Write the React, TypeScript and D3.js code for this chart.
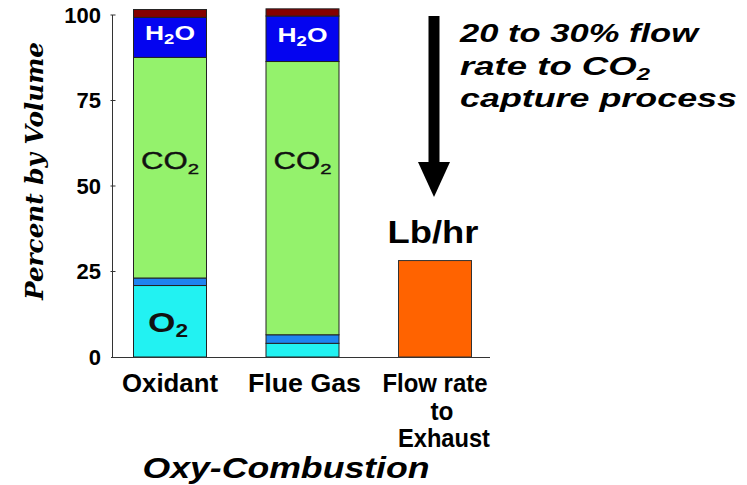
import React from "react";
import * as d3 from "d3";

// stacked gas composition, percent by volume
const categories = ["Oxidant", "Flue Gas", "Flow rate to Exhaust"];
const gases = ["O2", "N2Ar", "CO2", "H2O", "Other"];
const oxidantValues = [20.9, 2.2, 64.5, 11.7, 2.3];
const flueGasValues = [4.0, 2.5, 79.9, 13.3, 2.1];
const exhaustFlow = 28.2;
const yTicks = [0, 25, 50, 75, 100];

const gasColors: Record<string, string> = {
  O2: "#22F2F2",
  N2Ar: "#1E84F0",
  CO2: "#94F26C",
  H2O: "#0404F0",
  Other: "#850000",
};

const W = 747;
const H = 485;
const sans = "'Liberation Sans', Arial, sans-serif";

export default function App() {
  const y = d3.scaleLinear().domain([0, 100]).range([357, 15]);
  const x = d3.scalePoint<string>().domain(categories).range([170, 435]);
  const barW = 73;

  const rows = [
    { cat: categories[0], ...Object.fromEntries(gases.map((g, i) => [g, oxidantValues[i]])) },
    { cat: categories[1], ...Object.fromEntries(gases.map((g, i) => [g, flueGasValues[i]])) },
  ];
  const stacked = d3.stack<any>().keys(gases)(rows);

  const flowCx = x(categories[2])!;

  return (
    <svg width={W} height={H} style={{ position: "absolute", left: 0, top: 0, background: "#fff" }}>
      {/* stacked bars */}
      {stacked.map((layer) =>
        layer.map((d, i) => {
          const cx = x(rows[i].cat)!;
          return (
            <rect
              key={layer.key + i}
              x={cx - barW / 2}
              y={y(d[1])}
              width={barW}
              height={y(d[0]) - y(d[1])}
              fill={gasColors[layer.key]}
              stroke="#222"
              strokeWidth={1}
            />
          );
        })
      )}
      {/* exhaust flow bar */}
      <rect
        x={flowCx - barW / 2}
        y={y(exhaustFlow)}
        width={barW}
        height={y(0) - y(exhaustFlow)}
        fill="#FF6300"
        stroke="#333"
        strokeWidth={1}
      />

      {/* segment labels */}
      {stacked
        .find((l) => l.key === "H2O")!
        .map((d, i) => (
          <text
            key={"h2o" + i}
            x={x(rows[i].cat)!}
            y={(y(d[0]) + y(d[1])) / 2 + 3}
            textAnchor="middle"
            fill="#fff"
            fontFamily={sans}
            fontWeight="bold"
            fontSize={20}
            textLength={50}
            lengthAdjust="spacingAndGlyphs"
          >
            H<tspan fontSize={14} dy={4}>2</tspan>
            <tspan dy={-4}>O</tspan>
          </text>
        ))}
      {rows.map((r) => (
        <text
          key={"co2" + r.cat}
          x={x(r.cat)!}
          y={y(55)}
          textAnchor="middle"
          fill="#111"
          stroke="#111"
          strokeWidth={0.4}
          fontFamily={sans}
          fontSize={23}
          textLength={58}
          lengthAdjust="spacingAndGlyphs"
        >
          CO<tspan fontSize={15} dy={5}>2</tspan>
        </text>
      ))}
      {(() => {
        const d = stacked.find((l) => l.key === "O2")![0];
        return (
          <text
            x={x(categories[0])! - 2}
            y={(y(d[0]) + y(d[1])) / 2 + 11}
            textAnchor="middle"
            fill="#111"
            fontFamily={sans}
            fontWeight="bold"
            fontSize={28}
            textLength={40}
            lengthAdjust="spacingAndGlyphs"
          >
            O<tspan fontSize={18} dy={5}>2</tspan>
          </text>
        );
      })()}

      {/* Lb/hr label */}
      <text
        x={flowCx - 2}
        y={243}
        textAnchor="middle"
        fontFamily={sans}
        fontWeight="bold"
        fontSize={31}
        textLength={91}
        lengthAdjust="spacingAndGlyphs"
      >
        Lb/hr
      </text>

      {/* axes */}
      <line x1={112.5} x2={112.5} y1={y(100)} y2={y(0)} stroke="#333" strokeWidth={1} />
      <line x1={111} x2={490} y1={y(0) + 0.5} y2={y(0) + 0.5} stroke="#333" strokeWidth={1} />
      {yTicks.map((t) => (
        <g key={t}>
          {t > 0 && (
            <line x1={110.5} x2={115.5} y1={y(t)} y2={y(t)} stroke="#333" strokeWidth={1} />
          )}
          <text
            x={101}
            y={y(t)}
            textAnchor="end"
            dominantBaseline="central"
            fontFamily={sans}
            fontWeight="bold"
            fontSize={22}
            fill="#000"
          >
            {t}
          </text>
        </g>
      ))}

      {/* category labels */}
      <g fontFamily={sans} fontWeight="bold" fontSize={25} textAnchor="middle">
        <text x={x(categories[0])!} y={392} textLength={96} lengthAdjust="spacingAndGlyphs">
          Oxidant
        </text>
        <text x={x(categories[1])! + 2} y={392} textLength={113} lengthAdjust="spacingAndGlyphs">
          Flue Gas
        </text>
        <text x={flowCx} y={392} textLength={105} lengthAdjust="spacingAndGlyphs">
          Flow rate
        </text>
        <text x={flowCx + 7} y={420} textLength={23} lengthAdjust="spacingAndGlyphs">
          to
        </text>
        <text x={flowCx + 9} y={447} textLength={92} lengthAdjust="spacingAndGlyphs">
          Exhaust
        </text>
      </g>

      {/* axis title */}
      <text
        transform="translate(43,171) rotate(-90)"
        textAnchor="middle"
        fontFamily="'DejaVu Serif', serif"
        fontWeight="bold"
        fontStyle="italic"
        fontSize={25}
        textLength={258}
        lengthAdjust="spacingAndGlyphs"
      >
        Percent by Volume
      </text>
      <text
        x={286}
        y={478}
        textAnchor="middle"
        fontFamily={sans}
        fontWeight="bold"
        fontStyle="italic"
        fontSize={30}
        textLength={287}
        lengthAdjust="spacingAndGlyphs"
      >
        Oxy-Combustion
      </text>

      {/* arrow + note */}
      <rect x={428.5} y={16} width={11} height={147} fill="#000" />
      <path d="M418,162 L450,162 L434,197 Z" fill="#000" />
      <g fontFamily={sans} fontWeight="bold" fontStyle="italic" fontSize={26} fill="#000">
        <text x={460} y={42} textLength={238} lengthAdjust="spacingAndGlyphs">
          20 to 30% flow
        </text>
        <text x={460} y={75} textLength={190} lengthAdjust="spacingAndGlyphs">
          rate to CO<tspan fontSize={17} dy={5}>2</tspan>
        </text>
        <text x={460} y={107} textLength={277} lengthAdjust="spacingAndGlyphs">
          capture process
        </text>
      </g>
    </svg>
  );
}
